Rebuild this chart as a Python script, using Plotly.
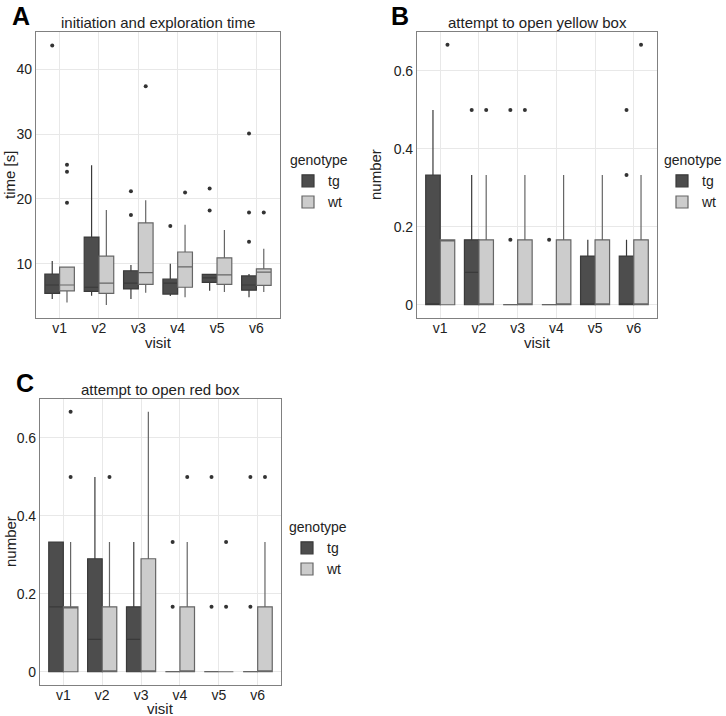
import plotly.graph_objects as go

visits = ["v1", "v2", "v3", "v4", "v5", "v6"]
genotypes = ["tg", "wt"]

# ---- Panel A: initiation and exploration time (s) ----
a_tg_q1 = [5.4, 5.7, 6.1, 5.3, 7.1, 5.9]
a_tg_med = [6.7, 6.35, 7.0, 7.0, 7.8, 6.7]
a_tg_q3 = [8.4, 14.1, 8.9, 7.6, 8.35, 8.1]
a_tg_lo = [4.55, 5.05, 4.55, 5.0, 5.8, 4.8]
a_tg_hi = [10.4, 25.2, 9.8, 10.0, 8.35, 8.4]
a_tg_out = [[43.7], [], [21.2, 17.5], [15.8], [21.6, 18.2], [30.1, 17.9, 13.4]]

a_wt_q1 = [5.8, 5.4, 6.8, 6.35, 6.8, 6.65]
a_wt_med = [6.7, 7.0, 8.6, 9.5, 8.25, 8.7]
a_wt_q3 = [9.45, 11.15, 16.3, 11.8, 10.9, 9.2]
a_wt_lo = [4.0, 3.6, 5.5, 4.8, 5.6, 5.6]
a_wt_hi = [9.45, 18.3, 19.8, 16.0, 15.2, 12.3]
a_wt_out = [[25.3, 24.2, 19.4], [], [37.4], [21.0], [], [17.9]]

# ---- Panel B: attempt to open yellow box ----
b_tg_q1 = [0, 0, 0, 0, 0, 0]
b_tg_med = [0, 0.0833, 0, 0, 0, 0]
b_tg_q3 = [0.333, 0.1667, 0, 0, 0.125, 0.125]
b_tg_lo = [0, 0, 0, 0, 0, 0]
b_tg_hi = [0.5, 0.333, 0, 0, 0.1667, 0.1667]
b_tg_out = [[], [0.5], [0.5, 0.1667], [0.1667], [], [0.5, 0.333]]

b_wt_q1 = [0, 0, 0, 0, 0, 0]
b_wt_med = [0.1667, 0, 0, 0, 0, 0]
b_wt_q3 = [0.1667, 0.1667, 0.1667, 0.1667, 0.1667, 0.1667]
b_wt_lo = [0, 0, 0, 0, 0, 0]
b_wt_hi = [0.1667, 0.333, 0.333, 0.333, 0.333, 0.333]
b_wt_out = [[0.667], [0.5], [0.5], [], [], [0.667]]

# ---- Panel C: attempt to open red box ----
c_tg_q1 = [0, 0, 0, 0, 0, 0]
c_tg_med = [0.1667, 0.0833, 0.0833, 0, 0, 0]
c_tg_q3 = [0.333, 0.29, 0.1667, 0, 0, 0]
c_tg_lo = [0, 0, 0, 0, 0, 0]
c_tg_hi = [0.333, 0.5, 0.333, 0, 0, 0]
c_tg_out = [[], [], [], [0.333, 0.1667], [0.5, 0.1667], [0.5, 0.1667]]

c_wt_q1 = [0, 0, 0, 0, 0, 0]
c_wt_med = [0.1667, 0, 0, 0, 0, 0]
c_wt_q3 = [0.1667, 0.1667, 0.29, 0.1667, 0, 0.1667]
c_wt_lo = [0, 0, 0, 0, 0, 0]
c_wt_hi = [0.333, 0.333, 0.667, 0.333, 0, 0.333]
c_wt_out = [[0.667, 0.5], [0.5], [], [0.5], [0.333, 0.1667], [0.5]]

titles = ["initiation and exploration time", "attempt to open yellow box", "attempt to open red box"]
ytitles = ["time [s]", "number", "number"]
xtitle = "visit"
legend_title = "genotype"
panel_letters = ["A", "B", "C"]

FILL = {"tg": "#4d4d4d", "wt": "#cccccc"}
LINE = {"tg": "#3a3a3a", "wt": "#666666"}
FONT = "Liberation Sans, Arial, sans-serif"
TXT = "#222222"
DODGE = 0.75

panels = [
    {"tg": (a_tg_q1, a_tg_med, a_tg_q3, a_tg_lo, a_tg_hi, a_tg_out),
     "wt": (a_wt_q1, a_wt_med, a_wt_q3, a_wt_lo, a_wt_hi, a_wt_out)},
    {"tg": (b_tg_q1, b_tg_med, b_tg_q3, b_tg_lo, b_tg_hi, b_tg_out),
     "wt": (b_wt_q1, b_wt_med, b_wt_q3, b_wt_lo, b_wt_hi, b_wt_out)},
    {"tg": (c_tg_q1, c_tg_med, c_tg_q3, c_tg_lo, c_tg_hi, c_tg_out),
     "wt": (c_wt_q1, c_wt_med, c_wt_q3, c_wt_lo, c_wt_hi, c_wt_out)},
]

W, H = 726, 716
# plot areas in page pixels (left, right, top, bottom)
areas = [(36, 280, 32, 318), (417, 657, 32, 318), (40, 281, 399, 685)]
yranges = [[1.6, 45.8], [-0.034, 0.70], [-0.034, 0.70]]
ytickvals = [[10, 20, 30, 40], [0, 0.2, 0.4, 0.6], [0, 0.2, 0.4, 0.6]]
yticktext = [["10", "20", "30", "40"], ["0", "0.2", "0.4", "0.6"], ["0", "0.2", "0.4", "0.6"]]
legend_pos = [(288, 147), (662, 147), (287, 514)]
ytitle_x = [10, 376, 10]
xtitle_y = [342, 342, 708]
letter_pos = [(21, 16), (400, 16), (25, 383)]


def px(x):
    return x / W


def py(y):
    return 1 - y / H


fig = go.Figure()
xs = list(range(1, len(visits) + 1))
bw = DODGE / len(genotypes)

for p, panel in enumerate(panels):
    sfx = "" if p == 0 else str(p + 1)
    legname = "legend" + sfx
    for g_i, g in enumerate(genotypes):
        q1, med, q3, lo, hi, outs = panel[g]
        off = (g_i - (len(genotypes) - 1) / 2) * bw
        xpos = [x + off for x in xs]
        fig.add_trace(go.Box(
            x=xpos, q1=q1, median=med, q3=q3, lowerfence=lo, upperfence=hi,
            width=bw, name=g, legend=legname, legendgroup=g + sfx,
            fillcolor=FILL[g], line=dict(color=LINE[g], width=1.2),
            whiskerwidth=0, boxpoints=False, xaxis="x" + sfx, yaxis="y" + sfx,
            hoverinfo="skip",
        ))
        ox, oy = [], []
        for x, vals in zip(xpos, outs):
            for v in vals:
                ox.append(x)
                oy.append(v)
        fig.add_trace(go.Scatter(
            x=ox, y=oy, mode="markers", showlegend=False, legendgroup=g + sfx,
            marker=dict(color="#333333", size=4), xaxis="x" + sfx, yaxis="y" + sfx,
            hoverinfo="skip",
        ))

    l, r, t, b = areas[p]
    axis_common = dict(
        showgrid=True, gridcolor="#e8e8e8", gridwidth=1, zeroline=False,
        showline=True, linecolor="#808080", linewidth=1.2, mirror=True,
        ticks="", automargin=False,
        tickfont=dict(family=FONT, size=14, color=TXT),
    )
    fig.update_layout(**{
        "xaxis" + sfx: dict(
            domain=[px(l), px(r)], anchor="y" + sfx, range=[0.4, len(visits) + 0.6],
            tickvals=xs, ticktext=visits, ticklabelstandoff=-3, **axis_common),
        "yaxis" + sfx: dict(
            domain=[py(b), py(t)], anchor="x" + sfx, range=yranges[p],
            tickvals=ytickvals[p], ticktext=yticktext[p], **axis_common),
        legname: dict(
            x=px(legend_pos[p][0]), y=py(legend_pos[p][1]), xanchor="left", yanchor="top",
            title=dict(text=legend_title, font=dict(family=FONT, size=14, color=TXT)),
            font=dict(family=FONT, size=14, color=TXT),
            bgcolor="rgba(0,0,0,0)", tracegroupgap=0, itemwidth=30,
        ),
    })
    # panel title
    fig.add_annotation(
        x=px((l + r) / 2), y=py(t - 9), xref="paper", yref="paper",
        text=titles[p], showarrow=False, xanchor="center", yanchor="middle",
        font=dict(family=FONT, size=15, color=TXT),
    )
    # x axis title
    fig.add_annotation(
        x=px((l + r) / 2), y=py(xtitle_y[p]), xref="paper", yref="paper",
        text=xtitle, showarrow=False, xanchor="center", yanchor="middle",
        font=dict(family=FONT, size=15, color=TXT), borderpad=0,
    )
    # y axis title
    fig.add_annotation(
        x=px(ytitle_x[p]), y=py((t + b) / 2), xref="paper", yref="paper",
        text=ytitles[p], showarrow=False, xanchor="center", yanchor="middle",
        textangle=-90, font=dict(family=FONT, size=15, color=TXT), borderpad=0,
    )
    # panel letter
    fig.add_annotation(
        x=px(letter_pos[p][0]), y=py(letter_pos[p][1]), xref="paper", yref="paper",
        text="<b>" + panel_letters[p] + "</b>", showarrow=False, xanchor="center", yanchor="middle",
        font=dict(family=FONT, size=25, color="#000000"), borderpad=0,
    )

fig.update_layout(
    width=W, height=H, margin=dict(l=0, r=0, t=0, b=0, autoexpand=False),
    paper_bgcolor="white", plot_bgcolor="white", showlegend=True,
)

# remove the browser's default 8px body margin so the figure fills the window
fig.write_html(
    "out.html",
    config={"displayModeBar": False},
    post_script="document.body.style.margin='0';document.body.style.overflow='hidden';",
)
